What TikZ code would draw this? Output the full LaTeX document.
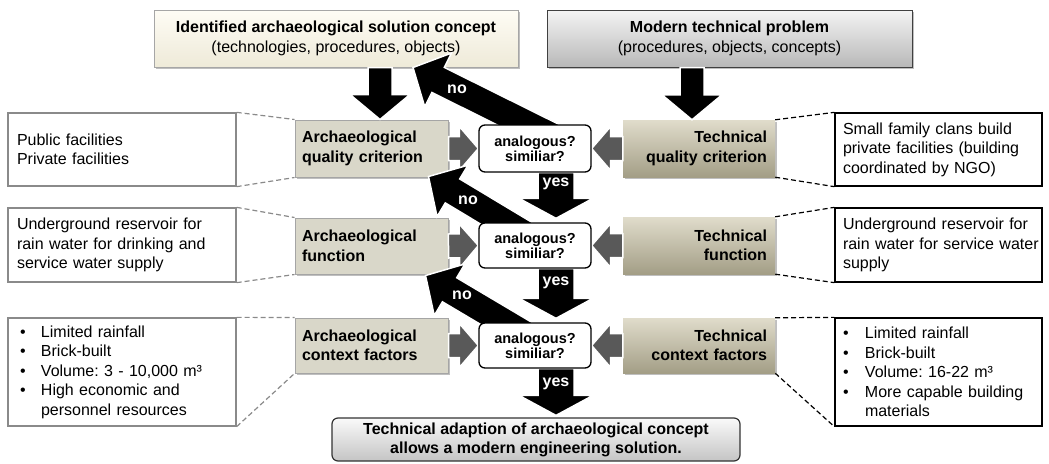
\documentclass[tikz,border=0pt]{standalone}
\usepackage{fontspec}
\setmainfont{Liberation Sans}
\frenchspacing
\hyphenpenalty=10000
\exhyphenpenalty=10000
\usetikzlibrary{calc,shadows}
\definecolor{tlborder}{HTML}{A6A6A6}
\definecolor{tltop}{HTML}{FEFCF5}
\definecolor{tlbot}{HTML}{EEEAD8}
\definecolor{trtop}{HTML}{F4F4F4}
\definecolor{trbot}{HTML}{B8B8B8}
\definecolor{trborder}{HTML}{404040}
\definecolor{archfill}{HTML}{D9D7C9}
\definecolor{archborder}{HTML}{A5A5A5}
\definecolor{techtop}{HTML}{E0DCCB}
\definecolor{techbot}{HTML}{A39E86}
\definecolor{ltborder}{HTML}{8A8A8A}
\definecolor{arrowgray}{HTML}{595959}
\definecolor{bttop}{HTML}{FAFAFA}
\definecolor{btbot}{HTML}{C4C4C4}
\pgfdeclarelayer{lines}
\pgfdeclarelayer{boxes}
\pgfdeclarelayer{arrows}
\pgfsetlayers{lines,boxes,arrows,main}
\newcommand{\bul}{\makebox[21pt][l]{\textbullet}}
\newcommand{\bur}{\makebox[22pt][l]{\textbullet}}
% block arrow: #1 style, #2 start, #3 tip, #4 shaft half width, #5 head half width, #6 head length
\newcommand{\blockarr}[6]{%
  \path (#2) coordinate (ba-s) (#3) coordinate (ba-e);
  \path ($(ba-e)!#6!(ba-s)$) coordinate (ba-h);
  \draw[#1] ($(ba-s)!#4!90:(ba-e)$) -- ($(ba-h)!#4!-90:(ba-s)$) -- ($(ba-h)!#5!-90:(ba-s)$) -- (ba-e) -- ($(ba-h)!#5!90:(ba-s)$) -- ($(ba-h)!#4!90:(ba-s)$) -- ($(ba-s)!#4!-90:(ba-e)$) -- cycle;
}
\tikzset{
  txt/.style={font=\fontsize{16}{19.5}\selectfont, inner ysep=0pt},
  shad/.style={drop shadow={shadow xshift=1.5pt, shadow yshift=-1.5pt, opacity=0.25, fill=black}},
  topl/.style={txt, rectangle, draw=tlborder, line width=1pt, top color=tltop, bottom color=tlbot, minimum width=364pt, minimum height=57pt, align=center, shad},
  topr/.style={txt, rectangle, draw=trborder, line width=1pt, top color=trtop, bottom color=trbot, minimum width=365pt, minimum height=57pt, align=center, shad},
  lbox/.style={txt, rectangle, draw=ltborder, line width=1.3pt, fill=white, inner xsep=9pt, text width=210pt, align=left},
  rbox/.style={txt, rectangle, draw=black, line width=1.3pt, fill=white, inner xsep=8pt, text width=191pt, align=left},
  abox/.style={txt, font=\fontsize{16}{19.5}\selectfont\bfseries, rectangle, draw=archborder, line width=1pt, fill=archfill, inner xsep=7pt, text width=139pt, align=left, shad},
  tbox/.style={txt, font=\fontsize{16}{19.5}\selectfont\bfseries, rectangle, top color=techtop, bottom color=techbot, inner xsep=8pt, text width=136pt, align=right, shad},
  anbox/.style={font=\fontsize{14.5}{15}\selectfont\bfseries, rectangle, rounded corners=6pt, draw=black, line width=1.3pt, fill=white, minimum width=112pt, minimum height=45pt, align=center, inner sep=0pt},
  botbox/.style={font=\fontsize{16}{19}\selectfont\bfseries, rectangle, rounded corners=6pt, draw=black!80, line width=1.2pt, top color=bttop, bottom color=btbot, minimum width=408pt, minimum height=43pt, align=center, inner sep=0pt},
  blk/.style={fill=black, draw=white, line width=1.5pt},
  gry/.style={fill=arrowgray, draw=white, line width=1.5pt},
  lbl/.style={font=\fontsize{16}{16}\selectfont\bfseries, text=white, inner sep=0pt},
  gdash/.style={draw=ltborder, line width=1.2pt, dash pattern=on 5pt off 3pt},
  kdash/.style={draw=black, line width=1.2pt, dash pattern=on 5pt off 3pt}
}
\begin{document}
\begin{tikzpicture}[x=1pt,y=-1pt]
\useasboundingbox (0,0) rectangle (1049,463);
\begin{pgfonlayer}{boxes}
\node[topl] (tl) at (336,38.5) {\textbf{Identified archaeological solution concept}\\(technologies, procedures, objects)};
\node[topr] (tr) at (729.5,38.5) {\textbf{Modern technical problem}\\(procedures, objects, concepts)};
% left text boxes
\node[lbox, minimum height=73pt] (lt1) at (122,149.5) {Public facilities\\Private facilities};
\node[lbox, minimum height=74pt] (lt2) at (122,245) {Underground reservoir for\\rain water for drinking and\\service water supply};
\node[lbox, minimum height=108pt, inner xsep=12pt, text width=204pt] (lt3) at (122,372) {\bul Limited rainfall\\\bul Brick-built\\\bul Volume: 3 - 10,000 m³\\\bul High economic and\\\hspace*{21pt}personnel resources};
% right text boxes
\node[rbox, minimum height=73pt] (rt1) at (938.5,149.5) {Small family clans build\\\mbox{private facilities (building}\\coordinated by NGO)};
\node[rbox, minimum height=74pt] (rt2) at (938.5,245) {Underground reservoir for\\\mbox{rain water for service water}\\supply};
\node[rbox, minimum height=108pt] (rt3) at (938.5,372) {\bur Limited rainfall\\\bur Brick-built\\\bur Volume: 16-22 m³\\\bur More capable building\\\hspace*{22pt}materials};
% archaeological boxes
\node[abox, minimum height=57pt] (aq) at (371.5,148.5) {Archaeological\\quality criterion};
\node[abox, minimum height=56pt] (af) at (371.5,246) {Archaeological\\function};
\node[abox, minimum height=55pt] (ac) at (371.5,345.5) {Archaeological\\context factors};
% technical boxes
\node[tbox, minimum height=57pt] (tq) at (699,148.5) {Technical\\quality criterion};
\node[tbox, minimum height=57pt] (tf) at (699,245.5) {Technical\\function};
\node[tbox, minimum height=55pt] (tc) at (699,345.5) {Technical\\context factors};
\end{pgfonlayer}
% analogous boxes and result
\node[anbox, minimum height=47pt] (an1) at (535,148.5) {analogous?\\similiar?};
\node[anbox] (an2) at (535,245.5) {analogous?\\similiar?};
\node[anbox] (an3) at (535,345.5) {analogous?\\similiar?};
\node[botbox] (bt) at (536,439.5) {Technical adaption of archaeological concept\\allows a modern engineering solution.};
\coordinate (lx) at (380,0);
\coordinate (rx) at (692,0);
\coordinate (yx) at (556,0);
% dashed connectors
\begin{pgfonlayer}{lines}
\draw[gdash] (lt1.north east) -- (aq.north west);
\draw[gdash] (lt1.south east) -- (aq.south west);
\draw[gdash] (lt2.north east) -- (af.north west);
\draw[gdash] (lt2.south east) -- (af.south west);
\draw[gdash] (lt3.north east) -- (ac.north west);
\draw[gdash] (lt3.south east) -- (ac.south west);
\draw[kdash] (tq.north east) -- (rt1.north west);
\draw[kdash] (tq.south east) -- (rt1.south west);
\draw[kdash] (tf.north east) -- (rt2.north west);
\draw[kdash] (tf.south east) -- (rt2.south west);
\draw[kdash] (tc.north east) -- (rt3.north west);
\draw[kdash] (tc.south east) -- (rt3.south west);
\end{pgfonlayer}
% block arrows
\begin{pgfonlayer}{arrows}
\blockarr{blk}{tl.south -| lx}{aq.north -| lx}{12pt}{30pt}{25pt}
\blockarr{blk}{tr.south -| rx}{tq.north -| rx}{12pt}{30pt}{25pt}
\blockarr{gry}{aq.east}{an1.west}{12pt}{22pt}{19pt}
\blockarr{gry}{tq.west}{an1.east}{12pt}{22pt}{19pt}
\blockarr{gry}{af.east}{an2.west}{12pt}{22pt}{19pt}
\blockarr{gry}{tf.west}{an2.east}{12pt}{22pt}{19pt}
\blockarr{gry}{ac.east}{an3.west}{12pt}{22pt}{19pt}
\blockarr{gry}{tc.west}{an3.east}{12pt}{22pt}{19pt}
\blockarr{blk}{an1.south -| yx}{$(an2.north -| yx)+(0,-4)$}{18pt}{37pt}{20pt}
\blockarr{blk}{an2.south -| yx}{$(an3.north -| yx)+(0,-4)$}{18pt}{37pt}{20pt}
\blockarr{blk}{an3.south -| yx}{$(bt.north -| yx)+(0,-2)$}{18pt}{37pt}{20pt}
\blockarr{blk}{$(an1.center)+(25,-8)$}{$(tl.south)+(77,0)$}{14pt}{30pt}{28pt}
\blockarr{blk}{$(an2.center)+(-5,-8)$}{$(aq.south east)+(-20,-1)$}{14pt}{30pt}{28pt}
\blockarr{blk}{$(an3.center)+(-5,-8)$}{$(af.south east)+(-23,1)$}{14pt}{30pt}{28pt}
\end{pgfonlayer}
% labels
\node[lbl] (no1) at (457,89) {no};
\node[lbl] (no2) at (468,200) {no};
\node[lbl] (no3) at (462,295) {no};
\node[lbl] (yes1) at (556,184) {yes};
\node[lbl] (yes2) at (556,283) {yes};
\node[lbl] (yes3) at (556,384) {yes};
\end{tikzpicture}
\end{document}
